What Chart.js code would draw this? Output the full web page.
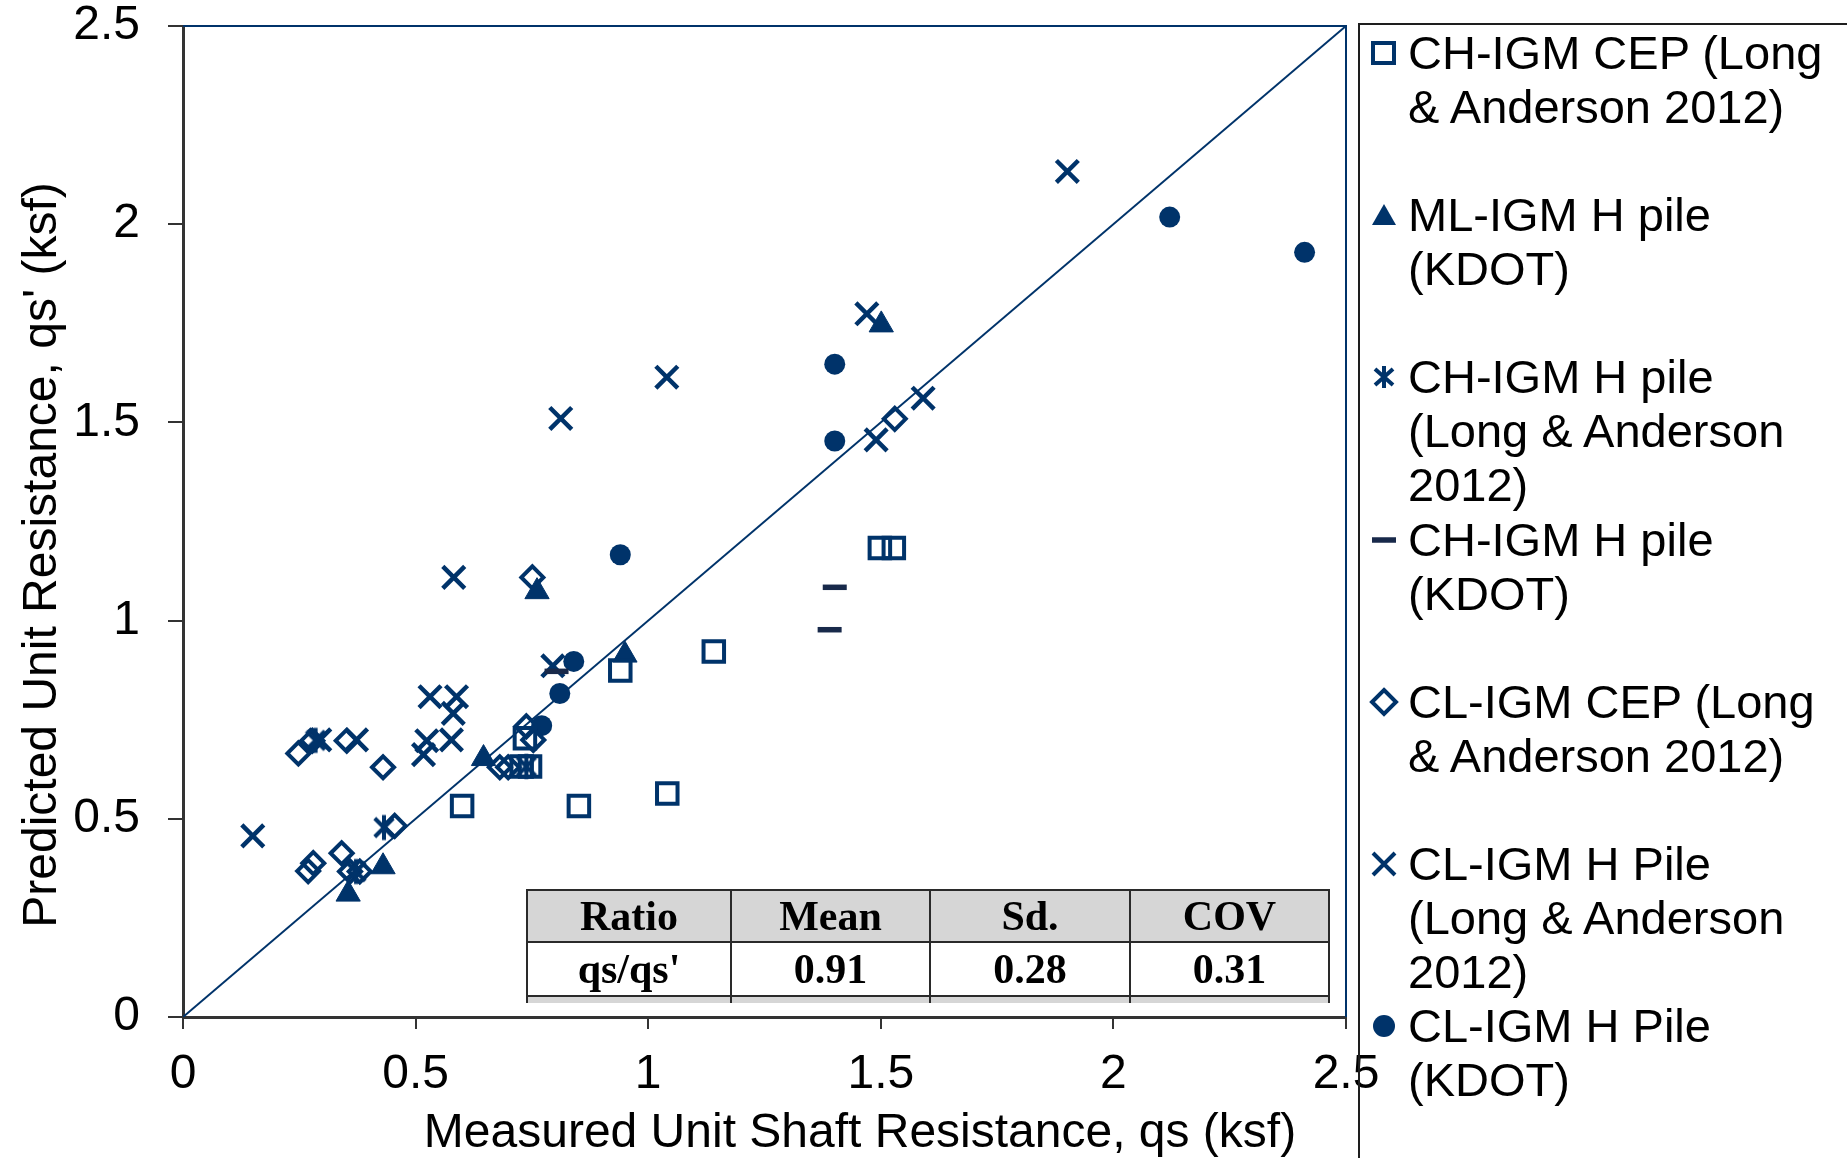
<!DOCTYPE html>
<html>
<head>
<meta charset="utf-8">
<script src="https://cdn.jsdelivr.net/npm/chart.js@4.4.1/dist/chart.umd.min.js"></script>
<style>
  html, body { margin: 0; padding: 0; background: #fff; }
  #wrap { position: relative; width: 1847px; height: 1158px; overflow: hidden;
          font-family: "Liberation Sans", Arial, sans-serif; color: #000; }
  #chart { position: absolute; left: 0; top: -26px; }
  #legend { position: absolute; left: 1358px; top: 23px; width: 700px; height: 1300px;
            border-left: 2px solid #1e1e1e; border-top: 2px solid #1e1e1e; }
  .item { position: absolute; left: 0; height: 162px; font-size: 47px; line-height: 54px; }
  .item svg { position: absolute; left: 8px; top: 11px; }
  .item span { position: absolute; left: 48px; top: 0; white-space: nowrap; }
  #xtitle { position: absolute; left: 0; width: 1720px; top: 1103px; text-align: center;
            font-size: 48px; line-height: 56px; white-space: nowrap; }
  #ytitle { position: absolute; left: -410px; top: 527px; width: 900px; height: 56px;
            text-align: center; font-size: 48px; line-height: 56px; white-space: nowrap;
            transform: rotate(-90deg); transform-origin: 50% 50%; }
  #stats { position: absolute; left: 526px; top: 889px; width: 794px; table-layout: fixed;
           border-collapse: collapse;
           font-family: "Liberation Serif", "Times New Roman", serif; font-weight: bold; font-size: 42px; }
  #stats td { border: 2px solid #2a2a2a; text-align: center; padding: 0; overflow: hidden; }
  #stats tr.head td { background: #d6d6d6; height: 50px; }
  #stats tr.vals td { background: #fff; height: 52px; }
  #stats tr.cut td { background: #d6d6d6; height: 6px; border-bottom: none; }
</style>
</head>
<body>
<div id="wrap">
  <canvas id="chart" width="1847" height="1184"></canvas>
  <div id="ytitle">Predicted Unit Resistance, qs' (ksf)</div>
  <div id="xtitle">Measured Unit Shaft Resistance, qs (ksf)</div>
  <table id="stats"></table>
  <div id="legend"></div>
</div>
<script>
const navy = '#00336a';
const dashColor = '#18294a';

// measured qs, predicted qs' (ksf)
const chIgmCep = [[0.600, 0.532], [0.851, 0.532], [1.041, 0.564], [1.141, 0.922], [0.940, 0.874],
                  [0.735, 0.703], [0.728, 0.632], [0.746, 0.632], [1.498, 1.183], [1.528, 1.183]];
const mlIgmHKdot = [[0.355, 0.310], [0.430, 0.379], [0.646, 0.652], [0.761, 1.073], [0.950, 0.913], [1.501, 1.746]];
const chIgmHLong = [[0.285, 0.698], [0.738, 0.632], [0.432, 0.478], [0.372, 0.367]];
const chIgmHKdot = [[0.803, 0.872], [1.401, 1.084], [1.390, 0.977]];
const clIgmCep = [[0.248, 0.665], [0.278, 0.697], [0.352, 0.697], [0.430, 0.630], [0.269, 0.368],
                  [0.280, 0.388], [0.341, 0.413], [0.359, 0.367], [0.380, 0.367], [0.455, 0.482],
                  [0.681, 0.630], [0.699, 0.630], [0.738, 0.733], [0.753, 0.699], [0.751, 1.109], [1.530, 1.509]];
const clIgmHLong = [[0.150, 0.457], [0.294, 0.699], [0.373, 0.699], [0.524, 0.697], [0.517, 0.662],
                    [0.577, 0.699], [0.531, 0.808], [0.588, 0.808], [0.581, 0.766], [0.795, 0.886],
                    [0.582, 1.109], [0.812, 1.510], [1.040, 1.614], [1.470, 1.774], [1.490, 1.456],
                    [1.591, 1.561], [1.901, 2.133]];
const clIgmHKdot = [[0.771, 0.735], [0.810, 0.816], [0.840, 0.897], [0.940, 1.166], [1.401, 1.453],
                    [1.401, 1.647], [2.121, 2.018], [2.411, 1.929]];
const equalityLine = [[0, 0], [2.5, 2.5]];

const seriesNames = [
  ['CH-IGM CEP (Long', '& Anderson 2012)'],
  ['ML-IGM H pile', '(KDOT)'],
  ['CH-IGM H pile', '(Long & Anderson', '2012)'],
  ['CH-IGM H pile', '(KDOT)'],
  ['CL-IGM CEP (Long', '& Anderson 2012)'],
  ['CL-IGM H Pile', '(Long & Anderson', '2012)'],
  ['CL-IGM H Pile', '(KDOT)']
];

const axisMin = 0, axisMax = 2.5, axisStep = 0.5;

const statsHead = ['Ratio', 'Mean', 'Sd.', 'COV'];
const statsRow = ["qs/qs'", '0.91', '0.28', '0.31'];
const statsColWidths = [202, 197, 198, 197];

const toXY = arr => arr.map(p => ({ x: p[0], y: p[1] }));

// asterisk marker (x with a vertical stroke)
function starMark(size, lw) {
  const c = document.createElement('canvas');
  c.width = c.height = size;
  const g = c.getContext('2d');
  const m = size / 2, a = size * 0.33, v = size * 0.45;
  g.strokeStyle = navy;
  g.lineWidth = lw;
  g.beginPath();
  g.moveTo(m - a, m - a); g.lineTo(m + a, m + a);
  g.moveTo(m + a, m - a); g.lineTo(m - a, m + a);
  g.moveTo(m, m - v); g.lineTo(m, m + v);
  g.stroke();
  return c;
}

const frameLines = {
  id: 'frameLines',
  beforeDatasetsDraw(chart) {
    const { ctx, chartArea: a } = chart;
    ctx.save();
    ctx.strokeStyle = navy;
    ctx.lineWidth = 2;
    ctx.beginPath();
    ctx.moveTo(a.left, a.top);
    ctx.lineTo(a.right, a.top);
    ctx.lineTo(a.right, a.bottom);
    ctx.stroke();
    ctx.restore();
  }
};

const tickFont = { family: '"Liberation Sans", Arial, sans-serif', size: 48, lineHeight: 1.0 };
const plainNumber = v => String(v);

new Chart(document.getElementById('chart'), {
  type: 'scatter',
  data: {
    datasets: [
      { label: seriesNames[0].join(' '), data: toXY(chIgmCep), pointStyle: 'rect', pointRadius: 14.5,
        borderColor: navy, backgroundColor: 'rgba(0,0,0,0)', borderWidth: 4 },
      { label: seriesNames[1].join(' '), data: toXY(mlIgmHKdot), pointStyle: 'triangle', pointRadius: 14,
        borderColor: navy, backgroundColor: navy, borderWidth: 1 },
      { label: seriesNames[2].join(' '), data: toXY(chIgmHLong), pointStyle: starMark(28, 4), pointRadius: 14,
        borderColor: navy, backgroundColor: navy },
      { label: seriesNames[3].join(' '), data: toXY(chIgmHKdot), pointStyle: 'line', pointRadius: 12,
        borderColor: dashColor, backgroundColor: dashColor, borderWidth: 5.5 },
      { label: seriesNames[4].join(' '), data: toXY(clIgmCep), pointStyle: 'rectRot', pointRadius: 11,
        borderColor: navy, backgroundColor: 'rgba(0,0,0,0)', borderWidth: 4 },
      { label: seriesNames[5].join(' '), data: toXY(clIgmHLong), pointStyle: 'crossRot', pointRadius: 15.5,
        borderColor: navy, backgroundColor: navy, borderWidth: 4.5 },
      { label: seriesNames[6].join(' '), data: toXY(clIgmHKdot), pointStyle: 'circle', pointRadius: 10.5,
        borderColor: navy, backgroundColor: navy, borderWidth: 0 },
      { label: '1:1', data: toXY(equalityLine), showLine: true, pointRadius: 0,
        borderColor: navy, borderWidth: 2, fill: false }
    ]
  },
  options: {
    responsive: false,
    animation: false,
    layout: { padding: { left: 0, top: 0, right: 501, bottom: 0 } },
    plugins: { legend: { display: false }, tooltip: { enabled: false } },
    scales: {
      x: {
        type: 'linear', min: axisMin, max: axisMax,
        afterFit(scale) { scale.height = 141; },
        border: { display: true, color: '#333', width: 3 },
        grid: { drawOnChartArea: false, drawTicks: true, tickLength: 12, color: '#333', lineWidth: 2 },
        ticks: { stepSize: axisStep, color: '#000', font: tickFont, padding: 22, maxRotation: 0,
                 callback: plainNumber }
      },
      y: {
        type: 'linear', min: axisMin, max: axisMax,
        afterFit(scale) { scale.width = 183; },
        border: { display: true, color: '#333', width: 3 },
        grid: { drawOnChartArea: false, drawTicks: true, tickLength: 15, color: '#333', lineWidth: 2 },
        ticks: { stepSize: axisStep, color: '#000', font: tickFont, padding: 28, callback: plainNumber }
      }
    }
  },
  plugins: [frameLines]
});

// statistics box
const table = document.getElementById('stats');
const addRow = (cls, cells) => {
  const tr = document.createElement('tr');
  tr.className = cls;
  cells.forEach((t, i) => {
    const td = document.createElement('td');
    td.style.width = statsColWidths[i] + 'px';
    td.textContent = t;
    tr.appendChild(td);
  });
  table.appendChild(tr);
};
addRow('head', statsHead);
addRow('vals', statsRow);
addRow('cut', ['', '', '', '']);

// legend
const markerSvg = [
  '<rect x="5" y="6" width="21" height="20" fill="none" stroke="' + navy + '" stroke-width="4"/>',
  '<polygon points="16,5 28,26 4,26" fill="' + navy + '"/>',
  '<path d="M7,8 L25,24 M25,8 L7,24 M16,5 L16,27" stroke="' + navy + '" stroke-width="4" fill="none"/>',
  '<line x1="4" y1="16" x2="28" y2="16" stroke="' + dashColor + '" stroke-width="5.5"/>',
  '<polygon points="16,4 28,16 16,28 4,16" fill="none" stroke="' + navy + '" stroke-width="4"/>',
  '<path d="M5,5 L27,27 M27,5 L5,27" stroke="' + navy + '" stroke-width="4" fill="none"/>',
  '<circle cx="16" cy="16" r="11" fill="' + navy + '"/>'
];
const legend = document.getElementById('legend');
seriesNames.forEach((lines, i) => {
  const div = document.createElement('div');
  div.className = 'item';
  div.style.top = (1 + i * 162.2) + 'px';
  div.innerHTML = '<svg width="32" height="32" viewBox="0 0 32 32">' + markerSvg[i] + '</svg>';
  const span = document.createElement('span');
  span.innerHTML = lines.map(s => s.replace(/&/g, '&amp;')).join('<br>');
  div.appendChild(span);
  legend.appendChild(div);
});
</script>
</body>
</html>
